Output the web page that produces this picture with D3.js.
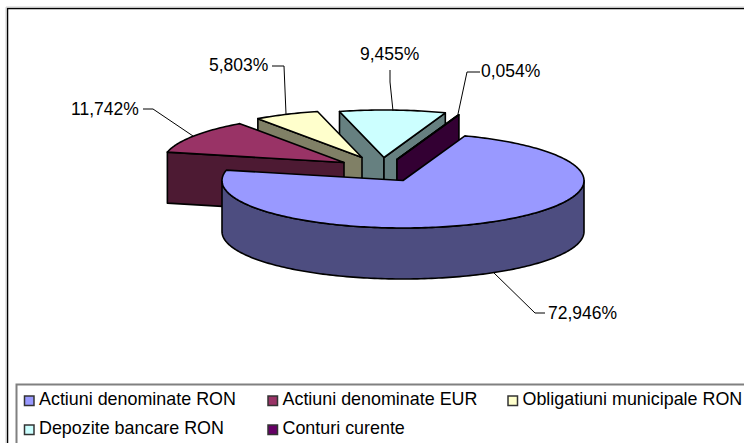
<!DOCTYPE html>
<html><head><meta charset="utf-8">
<script src="https://cdn.jsdelivr.net/npm/d3@7/dist/d3.min.js"></script>
<style>html,body{margin:0;padding:0;background:#fff}svg{display:block}text{font-family:"Liberation Sans",Arial,sans-serif;fill:#000}</style>
</head><body><svg id="c" width="744" height="443"></svg>
<script>
const categories = ["Actiuni denominate RON","Actiuni denominate EUR","Obligatiuni municipale RON","Depozite bancare RON","Conturi curente"];
const values = [72.946,11.742,5.803,9.455,0.054];
const valueLabels = ["72,946%","11,742%","5,803%","9,455%","0,054%"];
const topColors = ["#9999FF","#993366","#FFFFCC","#CCFFFF","#660066"];
const wallColors = ["#4D4D80","#4D1A33","#808066","#668080","#330033"];

// layout
const cx=403, cy=180.5, rx=181, ry=47.5, depth=51;
const explode=[[0,0],[-59,-18],[-41,-23],[-19,-23],[-6,-21]];
const leaders=[
  [[493,272],[535,313],[545,313]],
  [[143,109],[153,109],[193,136]],
  [[272,66],[284,66],[286,114]],
  [[390,70],[390,82],[393,111]],
  [[480,72],[467,72],[458,114]]];
const labelPos=[[548,319],[71,115],[209,71],[360,60],[481,77]];
const legendPos=[[24.5,405],[268,405],[508,405],[24.5,434],[268,434]];

const svg=d3.select("#c");
const start=20*Math.PI/180;
const arcs=d3.pie().sort(null).value(d=>d).startAngle(start).endAngle(start+2*Math.PI)(values);
const sx=d3.scaleLinear().domain([-1,1]).range([-rx,rx]);
const sy=d3.scaleLinear().domain([-1,1]).range([ry,-ry]);
const line=d3.line();
const pt=(i,a,dz=0)=>[cx+explode[i][0]+sx(Math.sin(a)),cy+explode[i][1]+sy(Math.cos(a))+dz];
const apex=(i,dz=0)=>[cx+explode[i][0],cy+explode[i][1]+dz];
const arcPts=(i,a0,a1)=>{const n=Math.max(2,Math.ceil((a1-a0)/0.02));return d3.range(n+1).map(k=>pt(i,a0+(a1-a0)*k/n));};
const style={stroke:"#000","stroke-width":1.6,"stroke-linejoin":"round"};
const poly=(pts,fill)=>{const p=svg.append("path").attr("d",line(pts)+"Z").attr("fill",fill);for(const k in style)p.attr(k,style[k]);return p;};

// chart frame
svg.append("path").attr("d","M7.5,443V8.5H744").attr("fill","none").attr("stroke","#000").attr("stroke-width",1.5);
svg.append("path").attr("d","M6,443V7H744").attr("fill","none").attr("stroke","#ccc").attr("stroke-width",1);

// painter's order: far slices first
[3,4,2,1,0].forEach(i=>{
  const d=arcs[i], A=apex(i), Ad=apex(i,depth);
  const s=pt(i,d.startAngle), e=pt(i,d.endAngle);
  const sD=pt(i,d.startAngle,depth), eD=pt(i,d.endAngle,depth);
  if(i!==0){
    poly([A,s,sD,Ad],wallColors[i]);
    if(i>=3) poly([A,e,eD,Ad],wallColors[i]);
  }
  const f0=Math.max(d.startAngle,Math.PI/2), f1=Math.min(d.endAngle,1.5*Math.PI);
  if(f1>f0){
    const top=arcPts(i,f0,f1);
    poly(top.concat(top.map(p=>[p[0],p[1]+depth]).reverse()),wallColors[i]);
  }
});
[3,4,2,1,0].forEach(i=>{
  const d=arcs[i];
  poly([apex(i)].concat(arcPts(i,d.startAngle,d.endAngle)),topColors[i]);
});

// leader lines and labels
leaders.forEach(l=>svg.append("path").attr("d",line(l)).attr("fill","none").attr("stroke","#000").attr("stroke-width",1));
labelPos.forEach((p,i)=>svg.append("text").attr("x",p[0]).attr("y",p[1]).attr("font-size",17.5).text(valueLabels[i]));

// legend
svg.append("path").attr("d","M744,384.5H16.5V443").attr("fill","none").attr("stroke","#808080").attr("stroke-width",2);
legendPos.forEach((p,i)=>{
  svg.append("rect").attr("x",p[0]).attr("y",p[1]-9).attr("width",9.5).attr("height",9.5).attr("fill",topColors[i]).attr("stroke","#333").attr("stroke-width",1.5);
  svg.append("text").attr("x",p[0]+14.5).attr("y",p[1]).attr("font-size",17.9).text(categories[i]);
});
</script></body></html>
